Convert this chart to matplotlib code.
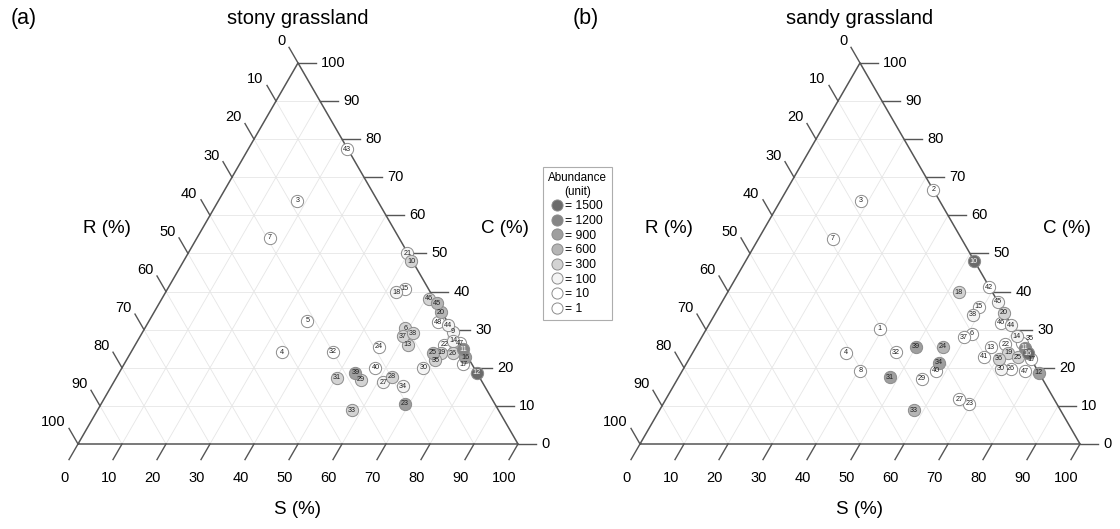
import numpy as np
import matplotlib.pyplot as plt
from matplotlib.lines import Line2D

plt.rcParams['font.family'] = ['Liberation Sans', 'DejaVu Sans']

# stony grassland: species id, S (%), C (%), abundance (unit)
stony_id = [3, 4, 5, 6, 7, 9, 10, 11, 12, 13, 14, 15, 16, 17, 18, 19, 20, 21, 22, 23, 24,
            25, 26, 27, 28, 29, 30, 31, 32, 33, 34, 35, 37, 38, 39, 40, 43, 44, 45, 46, 47, 48]
stony_S = [17.9, 34.3, 35.9, 59.2, 16.6, 70.4, 51.7, 75.0, 81.3, 61.9, 71.7, 53.9, 76.6, 77.1,
           52.4, 70.6, 65.2, 49.8, 70.2, 69.1, 55.7, 68.6, 73.3, 61.3, 62.5, 55.9, 68.5, 50.1,
           45.8, 57.8, 66.3, 70.2, 59.6, 61.5, 53.7, 57.6, 22.4, 68.5, 63.1, 60.8, 73.5, 65.9]
stony_C = [63.9, 24.1, 32.4, 30.4, 54.1, 29.5, 48.0, 24.9, 18.7, 26.0, 27.1, 40.7, 22.8, 20.9,
           39.8, 24.0, 34.6, 50.1, 26.1, 10.5, 25.5, 24.0, 23.8, 16.2, 17.7, 16.8, 20.0, 17.4,
           24.2, 8.9, 15.2, 22.0, 28.3, 29.1, 18.7, 20.0, 77.3, 31.2, 36.9, 38.1, 26.5, 31.9]
stony_abund = [1, 10, 10, 300, 1, 100, 300, 1200, 1500, 300, 100, 10, 900, 10, 100, 300, 600,
               100, 10, 900, 10, 600, 300, 100, 300, 300, 100, 300, 10, 300, 100, 300, 300, 300,
               900, 10, 10, 100, 600, 300, 10, 10]

# sandy grassland
sandy_id = [1, 2, 3, 4, 6, 7, 8, 10, 11, 12, 13, 14, 15, 16, 17, 18, 19, 20, 22, 23, 24, 25,
            26, 27, 29, 30, 31, 32, 33, 34, 35, 36, 37, 38, 39, 40, 41, 42, 44, 45, 46, 47]
sandy_S = [39.3, 33.3, 18.2, 34.8, 60.9, 16.9, 40.5, 51.8, 74.8, 81.3, 67.0, 71.5, 59.0, 76.2,
           77.8, 52.6, 71.7, 65.5, 69.9, 69.6, 56.0, 74.4, 74.4, 66.7, 55.5, 72.2, 48.1, 46.1,
           57.8, 57.2, 73.5, 70.3, 59.6, 58.7, 50.0, 57.7, 66.7, 58.8, 68.8, 62.7, 66.1, 78.0]
sandy_C = [30.3, 66.7, 63.9, 24.0, 28.9, 53.9, 19.2, 48.0, 25.2, 18.7, 25.4, 28.3, 36.0, 23.8,
           22.2, 39.8, 24.0, 34.5, 26.2, 10.5, 25.5, 22.8, 19.8, 11.7, 17.1, 19.8, 17.5, 24.1,
           8.9, 21.3, 26.5, 22.4, 28.0, 33.9, 25.5, 19.2, 22.9, 41.1, 31.1, 37.3, 31.8, 19.1]
sandy_abund = [10, 10, 1, 10, 10, 1, 10, 1500, 1200, 900, 10, 100, 10, 1500, 10, 300, 300, 300,
               10, 10, 600, 300, 10, 10, 10, 100, 900, 10, 600, 900, 10, 300, 10, 100, 900, 10,
               10, 10, 100, 100, 10, 10]

levels = [1500, 1200, 900, 600, 300, 100, 10, 1]
level_colors = ['#6b6b6b', '#858585', '#9e9e9e', '#b5b5b5', '#d3d3d3', '#f4f4f4', 'white', 'white']
ticks = list(range(0, 101, 10))

H = np.sqrt(3) / 2
PX = 4.4  # pixels per data unit


def tern(S, C):
    S = np.asarray(S, dtype=float)
    C = np.asarray(C, dtype=float)
    return S + C / 2, C * H


def draw_panel(ax, title, letter, ids, S, C, abund, shift=None):
    shift = shift or {}
    ax.axis('off')
    # grid
    for t in ticks[1:-1]:
        ax.plot(*tern([0, 100 - t], [t, t]), color='#e6e6e6', lw=0.6, zorder=1)
        ax.plot(*tern([t, t], [0, 100 - t]), color='#e6e6e6', lw=0.6, zorder=1)
        ax.plot(*tern([0, t], [t, 0]), color='#e6e6e6', lw=0.6, zorder=1)
    # frame
    ax.plot(*tern([0, 100, 0, 0], [0, 0, 100, 0]), color='#555555', lw=1.1, zorder=2)
    L = 18 / PX
    for t in ticks:
        # S axis (bottom)
        x0, y0 = tern(t, 0)
        x1, y1 = x0 - L * 0.5, y0 - L * H
        ax.plot([x0, x1], [y0, y1], color='#555555', lw=1, zorder=2)
        ax.text(x1 - 1, y1 - 4.2, str(t), ha='center', va='center', fontsize=10.5)
        # C axis (right)
        x0, y0 = tern(100 - t, t)
        x1 = x0 + L
        ax.plot([x0, x1], [y0, y0], color='#555555', lw=1, zorder=2)
        ax.text(x1 + 1.2, y0, str(t), ha='left', va='center', fontsize=10.5)
        # R axis (left)
        x0, y0 = tern(0, 100 - t)
        x1, y1 = x0 - L * 0.5, y0 + L * H
        ax.plot([x0, x1], [y0, y1], color='#555555', lw=1, zorder=2)
        ax.text(x1 - 0.8, y1 + 1.4, str(t), ha='right', va='center', fontsize=10.5)

    ax.text(50, -15, 'S (%)', ha='center', va='center', fontsize=13.5)
    ax.text(6.5, 49.0, 'R (%)', ha='center', va='center', fontsize=13.5)
    ax.text(97, 49.0, 'C (%)', ha='center', va='center', fontsize=13.5)
    ax.text(50, 96.6, title, ha='center', va='center', fontsize=14.5)
    ax.text(-12.3, 96.6, letter, ha='center', va='center', fontsize=15.5)

    # points, lighter first
    order = np.argsort(abund, kind='stable')
    x, y = tern(S, C)
    for i in order:
        col = level_colors[levels.index(abund[i])]
        ax.scatter(x[i], y[i], s=78, color=col, edgecolors='#8c8c8c', linewidths=0.7, zorder=3)
        tc = 'white' if abund[i] >= 1200 else '#222222'
        ax.annotate(str(ids[i]), (x[i], y[i]), xytext=shift.get(ids[i], (0, 0)),
                    textcoords='offset points', ha='center', va='center',
                    fontsize=5.2, color=tc, zorder=4)


fig = plt.figure(figsize=(11.2, 5.29), dpi=100)
ax1 = fig.add_axes([0, 0, 0.5, 1])
ax1.set_xlim(-78 / PX, 482 / PX)
ax1.set_ylim(-85 / PX, 444 / PX)
ax2 = fig.add_axes([0.5, 0, 0.5, 1])
ax2.set_xlim(-80 / PX, 480 / PX)
ax2.set_ylim(-85 / PX, 444 / PX)

draw_panel(ax1, 'stony grassland', '(a)', stony_id, stony_S, stony_C, stony_abund)
draw_panel(ax2, 'sandy grassland', '(b)', sandy_id, sandy_S, sandy_C, sandy_abund,
           shift={35: (6, 3)})

handles = [Line2D([], [], ls='', marker='o', markersize=8, markerfacecolor=c,
                  markeredgecolor='#8c8c8c', markeredgewidth=0.7) for c in level_colors]
labels = ['= %d' % v for v in levels]
leg = fig.legend(handles, labels, title='Abundance\n(unit)', loc='upper left',
                 bbox_to_anchor=(543 / 1120, 1 - 167 / 529), borderaxespad=0,
                 fontsize=8.7, title_fontsize=8.4,
                 frameon=True, fancybox=False, edgecolor='#999999', handlelength=0.8,
                 handletextpad=0.3, labelspacing=0.22, borderpad=0.4, alignment='center')
leg.get_title().set_multialignment('center')
leg.get_frame().set_linewidth(0.8)

fig.savefig('out.png', dpi=100)
